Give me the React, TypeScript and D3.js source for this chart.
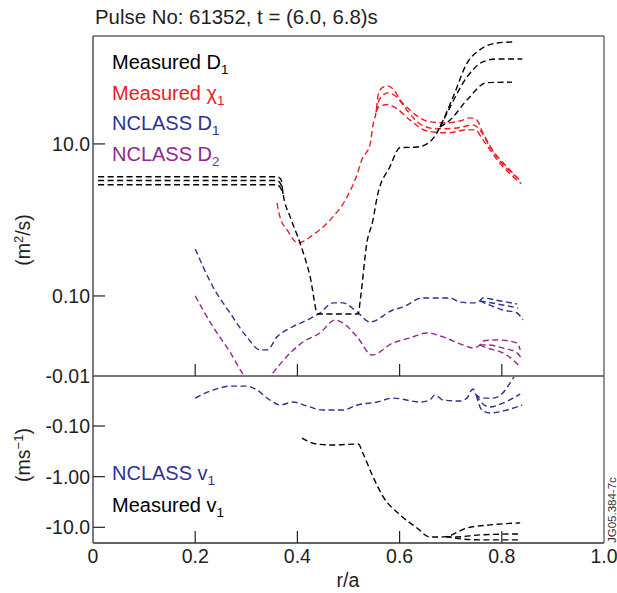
import React, { useEffect, useRef } from "react";
import * as d3 from "d3";

type Pt = [number, number];

// axis ticks
const xTickValues = [0, 0.2, 0.4, 0.6, 0.8, 1.0];
const xTickLabels = ["0", "0.2", "0.4", "0.6", "0.8", "1.0"];
const topTickValues = [10, 0.1, 0.00885];
const topTickLabels = ["10.0", "0.10", "-0.01"];
const bottomTickValues = [-0.1, -1, -10];
const bottomTickLabels = ["-0.10", "-1.00", "-10.0"];

// Measured D1 (m^2/s): three lines sharing a core
const measuredD1UpperStart: Pt[] = [[0.01, 3.7], [0.36, 3.7], [0.368, 3.4]];
const measuredD1MidStart: Pt[] = [[0.01, 3.3], [0.36, 3.3], [0.367, 3.0]];
const measuredD1LowerStart: Pt[] = [[0.01, 2.9], [0.36, 2.9], [0.366, 2.7]];
const measuredD1Core: Pt[] = [
  [0.372, 2.2], [0.386, 1.09], [0.405, 0.5], [0.425, 0.178], [0.44, 0.058],
  [0.519, 0.058], [0.523, 0.088], [0.536, 0.5], [0.548, 1.0], [0.556, 2.0],
  [0.581, 5.0], [0.601, 8.9], [0.634, 9.1], [0.659, 10.6], [0.673, 14.0], [0.679, 16.7],
];
const measuredD1UpperEnd: Pt[] = [[0.705, 42], [0.732, 116], [0.757, 173], [0.791, 213], [0.825, 220]];
const measuredD1MidEnd: Pt[] = [[0.693, 25.6], [0.732, 76], [0.763, 120], [0.791, 131], [0.84, 131]];
const measuredD1LowerEnd: Pt[] = [[0.699, 20.7], [0.732, 38], [0.771, 64], [0.82, 65]];

// Measured chi1
const measuredChiCore: Pt[] = [
  [0.36, 1.68], [0.366, 1.09], [0.38, 0.74], [0.401, 0.5], [0.431, 0.64], [0.464, 1.0],
  [0.497, 2.0], [0.517, 4.0], [0.526, 6.2], [0.542, 9.7], [0.548, 17.8], [0.554, 26.4],
];
const measuredChiUpper: Pt[] = [
  [0.558, 44], [0.566, 55], [0.577, 58], [0.589, 51], [0.601, 38], [0.62, 28], [0.64, 22],
  [0.659, 19.5], [0.689, 18.9], [0.718, 20], [0.738, 22], [0.751, 20.7], [0.763, 14.0],
  [0.791, 6.7], [0.83, 3.6],
];
const measuredChiMid: Pt[] = [
  [0.56, 38], [0.577, 47], [0.593, 42], [0.614, 28], [0.64, 18.3], [0.673, 15.8],
  [0.712, 16.2], [0.744, 17.8], [0.757, 15.3], [0.777, 9.1], [0.81, 5.0], [0.836, 3.3],
];
const measuredChiLower: Pt[] = [
  [0.558, 30], [0.577, 33], [0.595, 29], [0.62, 20.7], [0.654, 14.8], [0.693, 14.0],
  [0.732, 15.3], [0.748, 15.3], [0.763, 11.3], [0.796, 5.6], [0.838, 3.0],
];

// NCLASS D1
const nclassD1Core: Pt[] = [
  [0.2, 0.415], [0.235, 0.131], [0.268, 0.06], [0.301, 0.0289], [0.327, 0.0195],
  [0.341, 0.0195], [0.36, 0.0289], [0.386, 0.0379], [0.419, 0.0483], [0.444, 0.0597],
  [0.47, 0.081], [0.489, 0.081], [0.517, 0.0616], [0.542, 0.0455], [0.587, 0.0654],
  [0.607, 0.0716], [0.644, 0.094], [0.699, 0.094], [0.718, 0.083], [0.744, 0.081], [0.757, 0.086],
];
const nclassD1Upper: Pt[] = [[0.763, 0.094], [0.787, 0.0886], [0.81, 0.083], [0.83, 0.0785]];
const nclassD1Mid: Pt[] = [[0.771, 0.083], [0.802, 0.076], [0.832, 0.0695]];
const nclassD1Lower: Pt[] = [[0.771, 0.0785], [0.802, 0.0654], [0.83, 0.0597], [0.841, 0.0483]];

// NCLASS D2
const nclassD2Core: Pt[] = [
  [0.2, 0.1], [0.235, 0.0391], [0.268, 0.0183], [0.292, 0.0097], [0.322, 0.0052],
  [0.352, 0.0097], [0.386, 0.0178], [0.411, 0.0248], [0.444, 0.0326], [0.474, 0.0483],
  [0.489, 0.0442], [0.517, 0.0289], [0.546, 0.0167], [0.587, 0.0241], [0.62, 0.028],
  [0.654, 0.0326], [0.685, 0.0289], [0.724, 0.0227], [0.744, 0.0207], [0.757, 0.0227],
];
const nclassD2Upper: Pt[] = [[0.763, 0.0256], [0.791, 0.0264], [0.83, 0.0241], [0.836, 0.0195]];
const nclassD2Mid: Pt[] = [[0.771, 0.0227], [0.802, 0.0207], [0.83, 0.0178], [0.84, 0.0144]];
const nclassD2Lower: Pt[] = [[0.771, 0.0207], [0.802, 0.0178], [0.822, 0.0144], [0.836, 0.0116]];

// NCLASS v1 (m/s)
const nclassV1Core: Pt[] = [
  [0.2, -0.028], [0.235, -0.0195], [0.268, -0.0163], [0.301, -0.0163], [0.321, -0.0195],
  [0.346, -0.0307], [0.366, -0.0385], [0.391, -0.0336], [0.419, -0.0403], [0.45, -0.0483],
  [0.489, -0.0483], [0.517, -0.0385], [0.556, -0.0336], [0.587, -0.0281], [0.64, -0.0336],
  [0.659, -0.0307], [0.669, -0.0245], [0.685, -0.0307], [0.718, -0.0321], [0.732, -0.0281],
  [0.738, -0.0213], [0.744, -0.0186], [0.75, -0.0245],
];
const nclassV1Upper: Pt[] = [[0.763, -0.0281], [0.783, -0.0281], [0.802, -0.0223], [0.816, -0.0142], [0.828, -0.0092]];
const nclassV1Mid: Pt[] = [[0.761, -0.0352], [0.777, -0.0422], [0.802, -0.0352], [0.836, -0.0234]];
const nclassV1Lower: Pt[] = [[0.761, -0.0483], [0.777, -0.0554], [0.81, -0.0483], [0.84, -0.0385]];

// Measured v1
const measuredV1Core: Pt[] = [
  [0.409, -0.173], [0.438, -0.227], [0.47, -0.237], [0.519, -0.227], [0.528, -0.341],
  [0.548, -1.01], [0.568, -2.51], [0.601, -5.69], [0.634, -10.3], [0.659, -15.5],
  [0.679, -15.5], [0.69, -15.3],
];
const measuredV1Upper: Pt[] = [[0.732, -10.3], [0.777, -8.97], [0.836, -8.18]];
const measuredV1Mid: Pt[] = [[0.712, -15.5], [0.757, -14.1], [0.836, -13.5]];
const measuredV1Lower: Pt[] = [[0.705, -16.2], [0.757, -17.7], [0.836, -17.7]];

const topLegend = [
  { text: "Measured D", sub: "1", key: "black" },
  { text: "Measured \u03c7", sub: "1", key: "red" },
  { text: "NCLASS D", sub: "1", key: "blue" },
  { text: "NCLASS D", sub: "2", key: "purple" },
];
const bottomLegend = [
  { text: "NCLASS v", sub: "1", key: "blue" },
  { text: "Measured v", sub: "1", key: "black" },
];

const colors: Record<string, string> = {
  black: "#000000",
  red: "#ee1c25",
  blue: "#2e3192",
  purple: "#92278f",
};

const FONT = "'Liberation Sans', Arial, Helvetica, sans-serif";

export default function App() {
  const ref = useRef<SVGSVGElement>(null);

  useEffect(() => {
    const svg = d3.select(ref.current);
    svg.selectAll("*").remove();

    const left = 93, right = 604, top = 36, mid = 376, bottom = 543;

    const x = d3.scaleLinear().domain([0, 1]).range([left, right]);
    const yTop = d3.scaleLog().domain([0.00885, 263]).range([mid, top]);
    const yBot = d3.scaleLog().domain([0.0103, 20.4]).range([mid, bottom]);

    const defs = svg.append("defs");
    defs.append("clipPath").attr("id", "clipTop")
      .append("rect").attr("x", left).attr("y", top).attr("width", right - left).attr("height", mid - top);
    defs.append("clipPath").attr("id", "clipBot")
      .append("rect").attr("x", left).attr("y", mid).attr("width", right - left).attr("height", bottom - mid);

    const lineTop = d3.line<Pt>()
      .x(d => x(d[0]))
      .y(d => yTop(d[1]))
      .curve(d3.curveMonotoneX);
    const lineBot = d3.line<Pt>()
      .x(d => x(d[0]))
      .y(d => yBot(-d[1]))
      .curve(d3.curveMonotoneX);

    const gTop = svg.append("g").attr("clip-path", "url(#clipTop)");
    const gBot = svg.append("g").attr("clip-path", "url(#clipBot)");

    function draw(g: any, gen: any, pts: Pt[], color: string) {
      g.append("path")
        .datum(pts)
        .attr("fill", "none")
        .attr("stroke", color)
        .attr("stroke-width", 1.4)
        .attr("stroke-dasharray", "6,3.5")
        .attr("d", gen);
    }

    // top panel series
    draw(gTop, lineTop, [...nclassD2Core, ...nclassD2Upper], colors.purple);
    draw(gTop, lineTop, [...nclassD2Core.slice(-1), ...nclassD2Mid], colors.purple);
    draw(gTop, lineTop, [...nclassD2Core.slice(-1), ...nclassD2Lower], colors.purple);

    draw(gTop, lineTop, [...nclassD1Core, ...nclassD1Upper], colors.blue);
    draw(gTop, lineTop, [...nclassD1Core.slice(-1), ...nclassD1Mid], colors.blue);
    draw(gTop, lineTop, [...nclassD1Core.slice(-1), ...nclassD1Lower], colors.blue);

    draw(gTop, lineTop, [...measuredChiCore, ...measuredChiUpper], colors.red);
    draw(gTop, lineTop, [...measuredChiCore.slice(-1), ...measuredChiMid], colors.red);
    draw(gTop, lineTop, [...measuredChiCore.slice(-1), ...measuredChiLower], colors.red);

    draw(gTop, lineTop, [...measuredD1UpperStart, ...measuredD1Core, ...measuredD1UpperEnd], colors.black);
    draw(gTop, lineTop, [...measuredD1MidStart, measuredD1Core[0]], colors.black);
    draw(gTop, lineTop, [...measuredD1LowerStart, measuredD1Core[0]], colors.black);
    draw(gTop, lineTop, [...measuredD1Core.slice(-1), ...measuredD1MidEnd], colors.black);
    draw(gTop, lineTop, [...measuredD1Core.slice(-1), ...measuredD1LowerEnd], colors.black);

    // bottom panel series
    draw(gBot, lineBot, [...nclassV1Core, ...nclassV1Upper], colors.blue);
    draw(gBot, lineBot, [...nclassV1Core.slice(-1), ...nclassV1Mid], colors.blue);
    draw(gBot, lineBot, [...nclassV1Core.slice(-1), ...nclassV1Lower], colors.blue);

    draw(gBot, lineBot, [...measuredV1Core, ...measuredV1Upper], colors.black);
    draw(gBot, lineBot, [...measuredV1Core.slice(-1), ...measuredV1Mid], colors.black);
    draw(gBot, lineBot, [...measuredV1Core.slice(-1), ...measuredV1Lower], colors.black);

    // frame
    const frame = svg.append("g").attr("fill", "none");
    frame.append("line").attr("x1", left).attr("x2", right).attr("y1", top).attr("y2", top)
      .attr("stroke", "#666").attr("stroke-width", 1.6);
    frame.append("line").attr("x1", left).attr("x2", right).attr("y1", mid).attr("y2", mid)
      .attr("stroke", "#777").attr("stroke-width", 2.2);
    frame.append("line").attr("x1", left).attr("x2", right).attr("y1", bottom).attr("y2", bottom)
      .attr("stroke", "#666").attr("stroke-width", 2);
    frame.append("line").attr("x1", left).attr("x2", left).attr("y1", top).attr("y2", bottom)
      .attr("stroke", "#444").attr("stroke-width", 1.4);
    frame.append("line").attr("x1", right).attr("x2", right).attr("y1", top).attr("y2", bottom)
      .attr("stroke", "#666").attr("stroke-width", 1.4);

    // x ticks (inside each panel)
    const inner = xTickValues.filter(v => v > 0 && v < 1);
    inner.forEach(v => {
      frame.append("line").attr("x1", x(v)).attr("x2", x(v)).attr("y1", mid).attr("y2", mid - 12)
        .attr("stroke", "#222").attr("stroke-width", 1.2);
      frame.append("line").attr("x1", x(v)).attr("x2", x(v)).attr("y1", bottom).attr("y2", bottom - 12)
        .attr("stroke", "#222").attr("stroke-width", 1.2);
    });

    const labels = svg.append("g").attr("font-family", FONT).attr("fill", "#231f20");

    xTickValues.forEach((v, i) => {
      labels.append("text").attr("x", x(v)).attr("y", 563).attr("text-anchor", "middle")
        .attr("font-size", 19.5).text(xTickLabels[i]);
    });

    topTickValues.forEach((v, i) => {
      const yy = yTop(v);
      if (i < 2) {
        frame.append("line").attr("x1", left).attr("x2", left + 12).attr("y1", yy).attr("y2", yy)
          .attr("stroke", "#222").attr("stroke-width", 1.2);
      }
      labels.append("text").attr("x", 90).attr("y", yy).attr("dy", "0.36em").attr("text-anchor", "end")
        .attr("font-size", 19.5).text(topTickLabels[i]);
    });

    bottomTickValues.forEach((v, i) => {
      const yy = yBot(-v);
      frame.append("line").attr("x1", left).attr("x2", left + 12).attr("y1", yy).attr("y2", yy)
        .attr("stroke", "#222").attr("stroke-width", 1.2);
      labels.append("text").attr("x", 90).attr("y", yy).attr("dy", "0.36em").attr("text-anchor", "end")
        .attr("font-size", 19.5).text(bottomTickLabels[i]);
    });

    labels.append("text").attr("x", 348).attr("y", 587).attr("text-anchor", "middle")
      .attr("font-size", 19.5).text("r/a");

    // title
    labels.append("text").attr("x", 95).attr("y", 24).attr("font-size", 20.4)
      .text("Pulse No: 61352, t = (6.0, 6.8)s");

    // y axis titles
    const yt1 = labels.append("text").attr("transform", "translate(30,240) rotate(-90)")
      .attr("text-anchor", "middle").attr("font-size", 19.5);
    yt1.append("tspan").text("(m");
    yt1.append("tspan").attr("dy", -7).attr("font-size", 13).text("2");
    yt1.append("tspan").attr("dy", 7).text("/s)");

    const yt2 = labels.append("text").attr("transform", "translate(30,455) rotate(-90)")
      .attr("text-anchor", "middle").attr("font-size", 19.5);
    yt2.append("tspan").text("(ms");
    yt2.append("tspan").attr("dy", -7).attr("font-size", 13).text("\u22121");
    yt2.append("tspan").attr("dy", 7).text(")");

    // legends
    function legend(items: typeof topLegend, y0: number, step: number) {
      items.forEach((it, i) => {
        const t = labels.append("text").attr("x", 112).attr("y", y0 + i * step)
          .attr("font-size", 20).attr("fill", colors[it.key]);
        t.append("tspan").text(it.text);
        t.append("tspan").attr("dy", 5).attr("font-size", 13.5).text(it.sub);
      });
    }
    legend(topLegend, 69, 30.7);
    legend(bottomLegend, 480, 32);

    // figure id
    labels.append("text").attr("transform", "translate(616,543) rotate(-90)")
      .attr("font-size", 11.5).attr("fill", "#333").text("JG05.384-7c");
  }, []);

  return (
    <svg
      ref={ref}
      width={617}
      height={593}
      style={{ position: "absolute", left: 0, top: 0, background: "#fff" }}
    />
  );
}
